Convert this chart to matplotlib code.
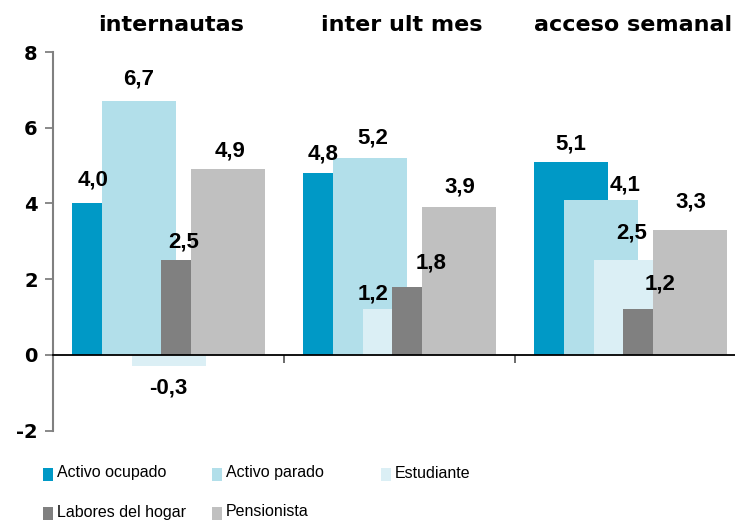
import matplotlib
matplotlib.use("Agg")
import matplotlib.pyplot as plt
from matplotlib import font_manager
from matplotlib.patches import Rectangle
from matplotlib.transforms import blended_transform_factory
import numpy as np

# ---- data ----
groups = ["internautas", "inter ult mes", "acceso semanal"]
series = ["Activo ocupado", "Activo parado", "Estudiante", "Labores del hogar", "Pensionista"]
activo_ocupado = [4.0, 4.8, 5.1]
activo_parado = [6.7, 5.2, 4.1]
estudiante = [-0.3, 1.2, 2.5]
labores_hogar = [2.5, 1.8, 1.2]
pensionista = [4.9, 3.9, 3.3]
values = [activo_ocupado, activo_parado, estudiante, labores_hogar, pensionista]
yticks = [-2, 0, 2, 4, 6, 8]

# ---- style ----
colors = ["#0099C6", "#B2DFEA", "#DBEFF5", "#808080", "#C0C0C0"]
# label nudges in pixels (dx, dy) per series, per group
nudges = [
    [(-16, 23), (-17, 19.5), (0, 18)],
    [(0, 22), (3, 19.5), (24, 15)],
    [(0, -22), (-26, 15.5), (1, 27)],
    [(-15, 18.5), (2, 23.5), (0, 25)],
    [(2, 18), (1, 20.5), (1, 27.5)],
]

names = {f.name for f in font_manager.fontManager.ttflist}
if "Liberation Sans Narrow" in names:
    leg_family, leg_size = "Liberation Sans Narrow", 14
else:
    leg_family, leg_size = "Liberation Sans", 11.5

W, H = 735, 523
fig = plt.figure(figsize=(W / 100, H / 100), dpi=100)
ax_left, ax_right = 53, 735
ax_top, ax_bot = 52, 430.5
ax = fig.add_axes([ax_left / W, (H - ax_bot) / H, (ax_right - ax_left) / W, (ax_bot - ax_top) / H])

group_px = 231.0
xmax = (ax_right - ax_left) / group_px - 0.5
ax.set_xlim(-0.5, xmax)
ax.set_ylim(-2, 8)

bar_w = 74 / group_px
step = 29.8 / group_px
x = np.arange(len(groups))

for i, (name, vals, col) in enumerate(zip(series, values, colors)):
    pos = x + (i - 2) * step
    ax.bar(pos, vals, width=bar_w, color=col, label=name, zorder=2 + i, linewidth=0)
    for j, v in enumerate(vals):
        dx, dy = nudges[i][j]
        ax.annotate(f"{v:.1f}".replace(".", ","), xy=(pos[j], v),
                    xytext=(dx, dy), textcoords="offset pixels",
                    ha="center", va="center", fontsize=16, fontweight="bold",
                    family="Liberation Sans", color="black", zorder=20)

# spines
for s in ["top", "right"]:
    ax.spines[s].set_visible(False)
ax.spines["left"].set_color("#808080")
ax.spines["left"].set_linewidth(1.5)
ax.spines["bottom"].set_position(("data", 0))
ax.spines["bottom"].set_color("black")
ax.spines["bottom"].set_linewidth(1.3)
ax.spines["bottom"].set_zorder(15)

ax.set_yticks(yticks)
ax.set_yticklabels([str(t) for t in yticks], fontsize=14, fontweight="bold", family="DejaVu Sans")
ax.tick_params(axis="y", direction="out", length=6, width=1.3, color="#808080", pad=5)
ax.set_xticks([-0.5, 0.5, 1.5])
ax.set_xticklabels([])
ax.tick_params(axis="x", direction="out", length=6, width=1.3, color="#606060")

# group titles
tr = blended_transform_factory(ax.transData, ax.transAxes)
for j, g in enumerate(groups):
    ax.text(x[j] + 0.01, 1 + 27 / (ax_bot - ax_top), g, transform=tr, ha="center", va="center",
            fontsize=16, fontweight="bold", family="DejaVu Sans")

# legend (manual grid: 3 columns, 2 rows)
leg_cols_px = [43, 212, 381]
leg_rows_px = [474, 513]
for k, (name, col) in enumerate(zip(series, colors)):
    r, c = divmod(k, 3)
    mx, my = leg_cols_px[c], leg_rows_px[r]
    fig.add_artist(Rectangle((mx / W, (H - my - 6.5) / H), 10 / W, 13 / H,
                             transform=fig.transFigure, color=col, linewidth=0))
    fig.text((mx + 14) / W, (H - my + 1) / H, name, ha="left", va="center",
             fontsize=leg_size, family=leg_family)

fig.savefig("out.png", dpi=100)
